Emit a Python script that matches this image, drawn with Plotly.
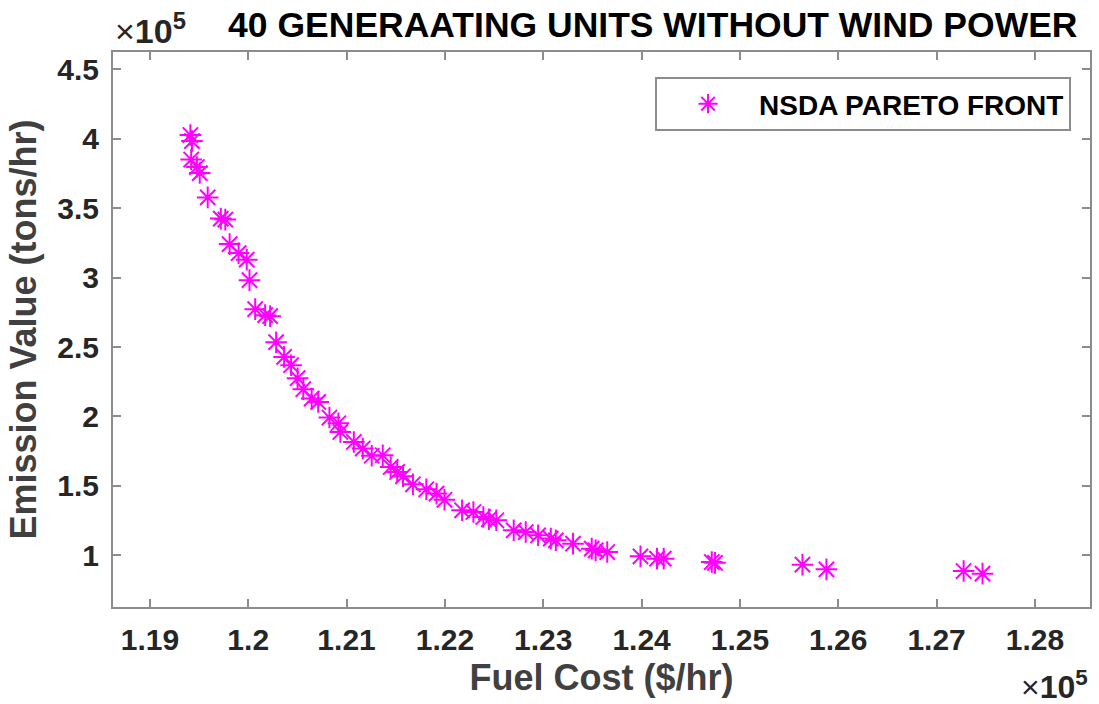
import plotly.graph_objects as go

# Pareto front: fuel cost ($/hr) vs emission (tons/hr), 40-unit system, no wind
fuel_cost = [
    119412, 119428, 119420, 119478, 119507, 119588, 119721, 119767, 119811, 119902,
    119985, 120013, 120071, 120172, 120223, 120284, 120365, 120436, 120502, 120560,
    120645, 120712, 120826, 120917, 120937, 121074, 121165, 121256, 121368, 121449,
    121515, 121574, 121675, 121811, 121915, 121996, 122175, 122290, 122391, 122447,
    122523, 122700, 122822, 122948, 123077, 123128, 123303, 123493, 123533, 123651,
    123989, 124157, 124225, 124714, 124747, 125636, 125880, 127275, 127467,
]
emission = [
    402610, 398287, 384958, 379554, 375231, 357723, 342448, 341728, 324076, 317591,
    312908, 298138, 277243, 272920, 272200, 253467, 242875, 236895, 227529, 219603,
    212902, 210453, 199213, 195106, 188838, 181633, 176877, 171690, 172050, 163620,
    160018, 156920, 151156, 147553, 144455, 139988, 132423, 131198, 127595, 125938,
    125218, 118013, 116788, 114410, 112032, 110808, 108430, 104827, 103603, 102378,
    99280, 97622, 97622, 95173, 94596, 93299, 89913, 88688, 86815,
]

x_ticks = [119000, 120000, 121000, 122000, 123000, 124000, 125000, 126000, 127000, 128000]
x_tick_text = ["1.19", "1.2", "1.21", "1.22", "1.23", "1.24", "1.25", "1.26", "1.27", "1.28"]
y_ticks = [100000, 150000, 200000, 250000, 300000, 350000, 400000, 450000]
y_tick_text = ["1", "1.5", "2", "2.5", "3", "3.5", "4", "4.5"]

FONT = "Liberation Sans, Arial, Helvetica, sans-serif"
AXIS_GRAY = "#8c8c8c"
TEXT_GRAY = "#262626"

fig = go.Figure()
fig.add_trace(go.Scatter(
    x=fuel_cost, y=emission, mode="markers", name="NSDA PARETO FRONT",
    marker=dict(symbol="asterisk-open", size=18, color="#ff00ff",
                line=dict(color="#ff00ff", width=2)),
))

axis_common = dict(
    showline=True, linecolor=AXIS_GRAY, linewidth=2, mirror="ticks",
    ticks="inside", ticklen=8, tickwidth=2, tickcolor=AXIS_GRAY,
    showgrid=False, zeroline=False,
    tickfont=dict(family=FONT, size=30, color=TEXT_GRAY, weight="bold"),
)

fig.update_layout(
    width=1099, height=704,
    margin=dict(l=113, r=7, t=52, b=97),
    paper_bgcolor="white", plot_bgcolor="white",
    showlegend=True,
    title=dict(
        text="40 GENERAATING UNITS WITHOUT WIND POWER",
        font=dict(family=FONT, size=35.5, color="black", weight="bold"),
        x=0.594, xanchor="center", y=1 - 25 / 704, yanchor="middle",
    ),
    xaxis=dict(
        range=[118625, 128560], tickvals=x_ticks, ticktext=x_tick_text,
        ticklabelstandoff=5,
        title=dict(text="Fuel Cost ($/hr)", standoff=10,
                   font=dict(family=FONT, size=36, color="#404040", weight="bold")),
        **axis_common,
    ),
    yaxis=dict(
        range=[62800, 462400], tickvals=y_ticks, ticktext=y_tick_text,
        ticklabelstandoff=6,
        title=dict(text="Emission Value (tons/hr)", standoff=10,
                   font=dict(family=FONT, size=36, color="#404040", weight="bold")),
        **axis_common,
    ),
    legend=dict(
        x=0.9806, xanchor="right", y=0.955, yanchor="top",
        bordercolor=AXIS_GRAY, borderwidth=2, bgcolor="white",
        itemwidth=92,
        font=dict(family=FONT, size=28, color="black", weight="bold"),
    ),
    annotations=[
        dict(text="×<b>10</b><sup><b>5</b></sup>", xref="paper", yref="paper",
             x=0, y=1, xanchor="left", yanchor="bottom", yshift=0, showarrow=False,
             font=dict(family=FONT, size=34, color=TEXT_GRAY)),
        dict(text="×<b>10</b><sup><b>5</b></sup>", xref="paper", yref="paper",
             x=1, y=0, xanchor="right", yanchor="top", yshift=-56, showarrow=False,
             font=dict(family=FONT, size=32, color=TEXT_GRAY)),
    ],
)

fig.write_html("out.html")
